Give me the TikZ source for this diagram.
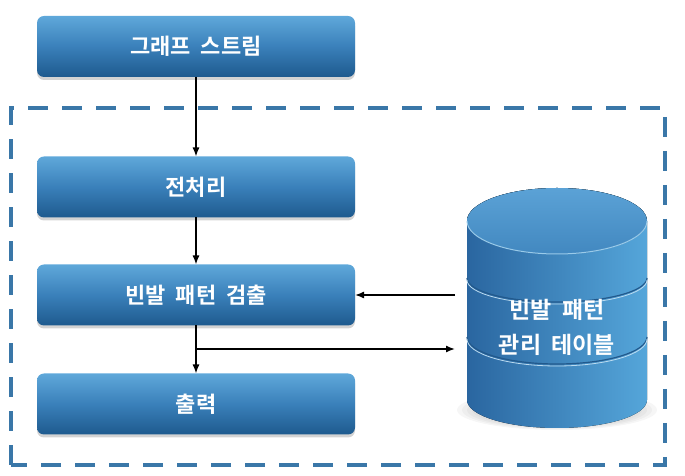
\documentclass[tikz,border=0pt]{standalone}
\usepackage{fontspec}
\newfontfamily\kofont{Noto Sans CJK KR}[BoldFont={Noto Sans CJK KR Bold}, WordSpace=2]
\usetikzlibrary{arrows.meta,shadows}

\definecolor{boxtop}{HTML}{5FA8DA}
\definecolor{boxmid}{HTML}{3A80BA}
\definecolor{boxbot}{HTML}{1E5A8E}
\definecolor{framecol}{HTML}{3A77A8}
\definecolor{dbleft}{HTML}{2A66A0}
\definecolor{dbright}{HTML}{55A6DA}
\definecolor{dbtop}{HTML}{5BA2D6}
\definecolor{dbtopdark}{HTML}{4288C0}
\definecolor{dbline}{HTML}{22598C}

\tikzset{
  procbox/.style={rounded corners=7pt, minimum width=318pt, minimum height=61pt,
    outer sep=0pt, top color=boxtop, bottom color=boxbot, middle color=boxmid,
    drop shadow={shadow xshift=0pt, shadow yshift=-3pt, opacity=0.35, fill=gray},
    text=white, font=\kofont\bfseries\fontsize{22}{26}\selectfont},
  dbtext/.style={text=white, align=center, inner sep=0pt,
    font=\kofont\bfseries\fontsize{23}{35}\selectfont},
  frame/.style={draw=framecol, line width=4pt, dash pattern=on 20pt off 14pt},
  flow/.style={-{Latex[length=9pt,width=7pt]}, line width=1.4pt},
  dbband/.style={draw=dbline, line width=1.2pt}
}

\begin{document}
\begin{tikzpicture}[x=1pt,y=1pt]
  \def\dbx{557}
  \def\dbrx{90}

  \useasboundingbox (0,0) rectangle (685,476);

  % Frame
  \draw[frame] (11,11) rectangle (665,368);

  % Process boxes
  \node[procbox] (stream) at (196,429.5) {그래프 스트림};
  \node[procbox] (prep) at (196,289) {전처리};
  \node[procbox] (detect) at (196,181) {빈발 패턴 검출};
  \node[procbox] (output) at (196,72) {출력};

  % Table shadow
  \foreach \r in {100,95,...,65}
    \fill[gray, opacity=0.07] (\dbx,66) ellipse[x radius=\r, y radius=\r*0.2];

  % Table body
  \fill[left color=dbleft, right color=dbright]
    (\dbx-\dbrx,255) -- (\dbx-\dbrx,76)
    arc[start angle=180, end angle=360, x radius=\dbrx, y radius=28]
    -- (\dbx+\dbrx,255)
    arc[start angle=0, end angle=180, x radius=\dbrx, y radius=33] -- cycle;

  % Bands
  \draw[dbband] (\dbx-\dbrx,198) arc[start angle=180, end angle=360, x radius=\dbrx, y radius=24];
  \draw[dbband] (\dbx-\dbrx,139) arc[start angle=180, end angle=360, x radius=\dbrx, y radius=27];
  \draw[white!60!dbright, line width=0.8pt] (\dbx-\dbrx,196) arc[start angle=180, end angle=360, x radius=\dbrx, y radius=24];
  \draw[white!60!dbright, line width=0.8pt] (\dbx-\dbrx,137) arc[start angle=180, end angle=360, x radius=\dbrx, y radius=27];

  % Table top
  \fill[top color=dbtop, bottom color=dbtopdark] (\dbx,255) ellipse[x radius=\dbrx, y radius=33];
  \draw[white!40!dbright, line width=1pt] (\dbx-\dbrx,255) arc[start angle=180, end angle=360, x radius=\dbrx, y radius=33];

  \node[dbtext] (table) at (\dbx,149) {빈발 패턴\\관리 테이블};

  % Connectors
  \coordinate (dbout) at (455,181);
  \coordinate (dbin) at (455,127);
  \coordinate (split) at (196,127);

  \draw[flow] (stream) -- (prep);
  \draw[flow] (prep) -- (detect);
  \draw[flow] (detect) -- (output);
  \draw[flow] (dbout) -- (detect.east);
  \draw[flow] (split) -- (dbin);
\end{tikzpicture}
\end{document}
